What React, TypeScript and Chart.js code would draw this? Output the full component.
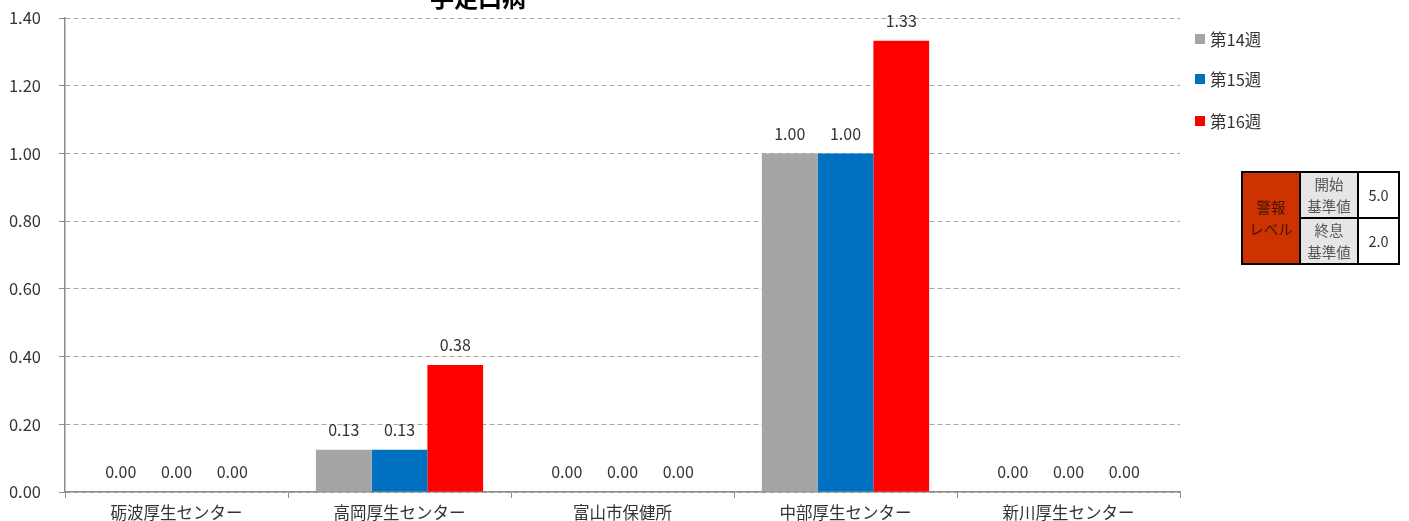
import React, { useEffect, useRef } from "react";
import { Chart, registerables } from "chart.js";

Chart.register(...registerables);

const title = "手足口病";
const categories = ["砺波厚生センター", "高岡厚生センター", "富山市保健所", "中部厚生センター", "新川厚生センター"];
const seriesNames = ["第14週", "第15週", "第16週"];
const week14 = [0, 0.125, 0, 1.0, 0];
const week15 = [0, 0.125, 0, 1.0, 0];
const week16 = [0, 0.375, 0, 1.333, 0];
const seriesColors = ["#A5A5A5", "#0070C0", "#FF0000"];
const yTicks = [0, 0.2, 0.4, 0.6, 0.8, 1.0, 1.2, 1.4];
const alarmStart = "5.0";
const alarmEnd = "2.0";

const FONT = '"Noto Sans CJK JP", "Noto Sans", sans-serif';

export default function App() {
  const ref = useRef<HTMLCanvasElement | null>(null);

  useEffect(() => {
    if (!ref.current) return;
    const labelPlugin = {
      id: "valueLabels",
      afterDatasetsDraw(chart: any) {
        const ctx = chart.ctx;
        ctx.save();
        ctx.font = `16px ${FONT}`;
        ctx.fillStyle = "#333333";
        ctx.textAlign = "center";
        ctx.textBaseline = "middle";
        chart.data.datasets.forEach((ds: any, i: number) => {
          const meta = chart.getDatasetMeta(i);
          meta.data.forEach((bar: any, j: number) => {
            const v = ds.data[j] as number;
            ctx.fillText(v.toFixed(2), bar.x, bar.y - 20);
          });
        });
        ctx.restore();
      },
    };
    const titlePlugin = {
      id: "cutTitle",
      afterDraw(chart: any) {
        const ctx = chart.ctx;
        ctx.save();
        ctx.font = `bold 24px ${FONT}`;
        ctx.fillStyle = "#000000";
        ctx.textAlign = "center";
        ctx.textBaseline = "bottom";
        ctx.fillText(title, 478, 10);
        ctx.restore();
      },
    };
    const chart = new Chart(ref.current, {
      type: "bar",
      data: {
        labels: categories,
        datasets: [week14, week15, week16].map((d, i) => ({
          label: seriesNames[i],
          data: d,
          backgroundColor: seriesColors[i],
          borderWidth: 0,
          categoryPercentage: 0.75,
          barPercentage: 1.0,
        })),
      },
      options: {
        animation: false,
        responsive: false,
        maintainAspectRatio: false,
        layout: { padding: { left: 0, right: 229, top: 18, bottom: 0 } },
        plugins: {
          legend: { display: false },
          title: { display: false },
          tooltip: { enabled: false },
        },
        scales: {
          x: {
            afterFit: (scale: any) => {
              scale.height = 29;
              scale.paddingTop = 0;
              scale.paddingLeft = 0;
              scale.paddingRight = 0;
            },
            grid: {
              drawOnChartArea: false,
              drawTicks: true,
              tickLength: 6,
              color: "#8c8c8c",
              offset: true,
            },
            border: { display: true, color: "#8c8c8c", width: 1.5 },
            ticks: {
              color: "#333333",
              font: { family: FONT, size: 16.5 },
              padding: 5,
              maxRotation: 0,
              autoSkip: false,
            },
          },
          y: {
            min: 0,
            max: 1.4,
            afterFit: (scale: any) => {
              scale.width = 65;
              scale.paddingTop = 0;
              scale.paddingBottom = 0;
            },
            afterBuildTicks: (scale: any) => {
              scale.ticks = yTicks.map((v) => ({ value: v }));
            },
            grid: {
              color: "#a6a6a6",
              lineWidth: 1,
              drawTicks: true,
              tickLength: 6,
              tickColor: "#8c8c8c",
              tickBorderDash: [],
            },
            border: { display: true, color: "#8c8c8c", width: 1.5, dash: [5, 3] },
            ticks: {
              color: "#333333",
              font: { family: FONT, size: 16.5 },
              padding: 18,
              callback: (v: any) => Number(v).toFixed(2),
            },
          },
        },
      },
      plugins: [labelPlugin, titlePlugin],
    });
    return () => chart.destroy();
  }, []);

  const legendTop = [39, 79, 121];

  const cellBorder = "2px solid #000";
  return (
    <div style={{ position: "absolute", left: 0, top: 0, width: 1409, height: 521, background: "#fff", fontFamily: FONT }}>
      <canvas ref={ref} width={1409} height={521} style={{ position: "absolute", left: 0, top: 0, width: 1409, height: 521 }} />
      {seriesNames.map((n, i) => (
        <div key={n} style={{ position: "absolute", left: 1195, top: legendTop[i] - 11, height: 22, display: "flex", alignItems: "center", fontSize: 16.5, color: "#333" }}>
          <span style={{ display: "inline-block", width: 10, height: 10, background: seriesColors[i], marginRight: 5 }} />
          <span>{n}</span>
        </div>
      ))}
      <table
        style={{
          position: "absolute",
          left: 1241,
          top: 171,
          width: 159,
          height: 89,
          borderCollapse: "collapse",
          fontSize: 14.5,
          textAlign: "center",
          lineHeight: "22px",
        }}
      >
        <tbody>
          <tr>
            <td rowSpan={2} style={{ border: cellBorder, background: "#CC3300", color: "#4a1200", width: 56, padding: 0 }}>
              警報<br />レベル
            </td>
            <td style={{ border: cellBorder, background: "#E6E6E6", color: "#555", width: 56, padding: 0 }}>
              開始<br />基準値
            </td>
            <td style={{ border: cellBorder, background: "#fff", color: "#333", padding: 0 }}>{alarmStart}</td>
          </tr>
          <tr>
            <td style={{ border: cellBorder, background: "#E6E6E6", color: "#555", padding: 0 }}>
              終息<br />基準値
            </td>
            <td style={{ border: cellBorder, background: "#fff", color: "#333", padding: 0 }}>{alarmEnd}</td>
          </tr>
        </tbody>
      </table>
    </div>
  );
}
